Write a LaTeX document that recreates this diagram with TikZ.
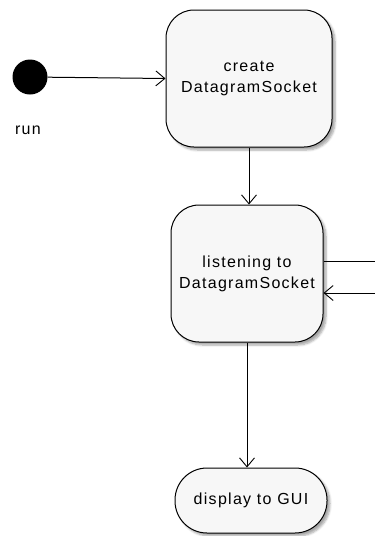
\documentclass[tikz,border=0pt]{standalone}
\usepackage{fontspec}
\setmainfont{Liberation Sans}[LetterSpace=8]
\usetikzlibrary{arrows.meta,shadows.blur}
\begin{document}
\begin{tikzpicture}[x=1pt,y=-1pt,
  state/.style={draw=black,line width=1pt,fill=white!97!black,
    rounded corners=28pt,align=center,font=\fontsize{16}{21}\selectfont,
    inner sep=0pt,
    blur shadow={shadow xshift=3pt,shadow yshift=-3pt,shadow blur steps=6,shadow opacity=35}},
  flow/.style={line width=1pt,-{Straight Barb[length=9pt,width=15pt,line width=0.9pt]}},
  line/.style={line width=1pt}]
  \useasboundingbox (0,0) rectangle (375,536);
  % initial pseudo state
  \node[circle,fill=black,minimum size=35pt,inner sep=0pt] (init) at (30,77) {};
  \node[font=\fontsize{16}{18}\selectfont] (run) at (28,130) {run};
  % states
  \node[state,minimum width=166pt,minimum height=137pt] (create) at (249,78.5)
    {create\\DatagramSocket};
  \node[state,minimum width=152pt,minimum height=137pt] (listen) at (247,273.5)
    {listening to\\DatagramSocket};
  \node[state,rounded corners=32pt,minimum width=152pt,minimum height=65pt] (gui) at (251,500.5)
    {display to GUI};
  % transitions
  \draw[flow] (init) -- (create.west);
  \draw[flow] (create.south) -- (create.south |- listen.north);
  \draw[flow] (listen.south) -- (listen.south |- gui.north);
  % self transition leaving and re-entering on the right edge
  \coordinate (outR) at (375,261);
  \coordinate (inR) at (375,293);
  \draw[line] (listen.east |- outR) -- (outR);
  \draw[flow] (inR) -- (listen.east |- inR);
\end{tikzpicture}
\end{document}
